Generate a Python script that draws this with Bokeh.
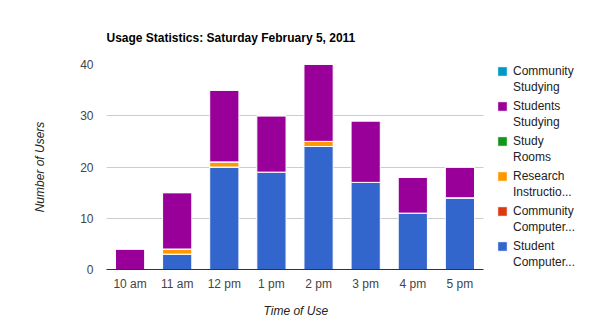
from bokeh.plotting import figure
from bokeh.models import (ColumnDataSource, Legend, LegendItem, Range1d,
                          FixedTicker, Title)
from bokeh.embed import file_html
from bokeh.resources import INLINE

hours = ["10 am", "11 am", "12 pm", "1 pm", "2 pm", "3 pm", "4 pm", "5 pm"]
student_computer = [0, 3, 20, 19, 24, 17, 11, 14]
community_computer = [0, 0, 0, 0, 0, 0, 0, 0]
research_instruction = [0, 1, 1, 0, 1, 0, 0, 0]
study_rooms = [0, 0, 0, 0, 0, 0, 0, 0]
students_studying = [4, 11, 14, 11, 15, 12, 7, 6]
community_studying = [0, 0, 0, 0, 0, 0, 0, 0]

series = ["student_computer", "community_computer", "research_instruction",
          "study_rooms", "students_studying", "community_studying"]
label_line1 = ["Student", "Community", "Research", "Study", "Students", "Community"]
label_line2 = ["Computer...", "Computer...", "Instructio...", "Rooms", "Studying", "Studying"]
colors = ["#3366cc", "#dc3912", "#ff9900", "#109618", "#990099", "#0099c6"]

idx = list(range(len(hours)))
source = ColumnDataSource(dict(
    idx=idx,
    student_computer=student_computer,
    community_computer=community_computer,
    research_instruction=research_instruction,
    study_rooms=study_rooms,
    students_studying=students_studying,
    community_studying=community_studying,
))

FONT = "Liberation Sans"
N = len(hours)
# frame spans 106..590 px; category band is 377/8 px wide
band_px = 377.0 / N
x_end = -0.5 + 484.0 / band_px

p = figure(width=590, height=332, output_backend="svg", toolbar_location=None,
           x_range=Range1d(-0.5, x_end), y_range=Range1d(0, 40),
           min_border_left=106, min_border_right=0, min_border_top=64,
           min_border_bottom=63, background_fill_color="white",
           border_fill_color="white", outline_line_color=None)

rs = p.vbar_stack(series, x="idx", width=0.62, color=colors, source=source,
                  line_color="white", line_width=1)

p.title.text = "Usage Statistics: Saturday February 5, 2011"
p.title.text_font = FONT
p.title.text_font_size = "12px"
p.title.text_font_style = "bold"
p.title.text_color = "#000000"
p.title.align = "left"
p.title.standoff = 40

p.xgrid.grid_line_color = None
p.ygrid.grid_line_color = "#cccccc"
p.ygrid.cross_bounds = (-0.5, N - 0.5)
p.yaxis.ticker = [0, 10, 20, 30, 40]
p.xaxis.ticker = FixedTicker(ticks=idx)
p.xaxis.major_label_overrides = {i: h for i, h in enumerate(hours)}
p.xaxis.bounds = (-0.5, N - 0.5)

for ax in (p.xaxis[0], p.yaxis[0]):
    ax.major_tick_line_color = None
    ax.minor_tick_line_color = None
    ax.major_label_text_font = FONT
    ax.major_label_text_font_size = "12px"
    ax.major_label_text_color = "#444444"
    ax.axis_label_text_font = FONT
    ax.axis_label_text_font_size = "12px"
    ax.axis_label_text_font_style = "italic"
    ax.axis_label_text_color = "#222222"

p.yaxis.axis_line_color = None
p.yaxis.major_label_standoff = 7
p.yaxis.axis_label = "Number of Users"
p.yaxis.axis_label_standoff = 30

p.xaxis.axis_line_color = "#333333"
p.xaxis.major_label_standoff = 1

# x-axis title, centred under the category bands (not under the wider frame)
xtitle = Title(text="Time of Use", align="left", offset=157, standoff=16,
               text_font=FONT, text_font_size="12px", text_font_style="italic",
               text_color="#222222")
p.add_layout(xtitle, "below")

order = list(reversed(range(len(series))))
common = dict(padding=0, margin=0, border_line_color=None,
              background_fill_alpha=0, glyph_height=12, label_height=12,
              label_text_font=FONT, label_text_font_size="12px",
              label_text_color="#222222", spacing=21)
legend1 = Legend(items=[LegendItem(label=label_line1[i], renderers=[rs[i]]) for i in order],
                 location=(390, 16), glyph_width=12, label_standoff=5, **common)
legend2 = Legend(items=[LegendItem(label=label_line2[i], renderers=[rs[i]]) for i in order],
                 location=(407, 0), glyph_width=0, label_standoff=0, **common)
p.add_layout(legend1, "center")
p.add_layout(legend2, "center")

open("out.html", "w").write(file_html(p, INLINE))
